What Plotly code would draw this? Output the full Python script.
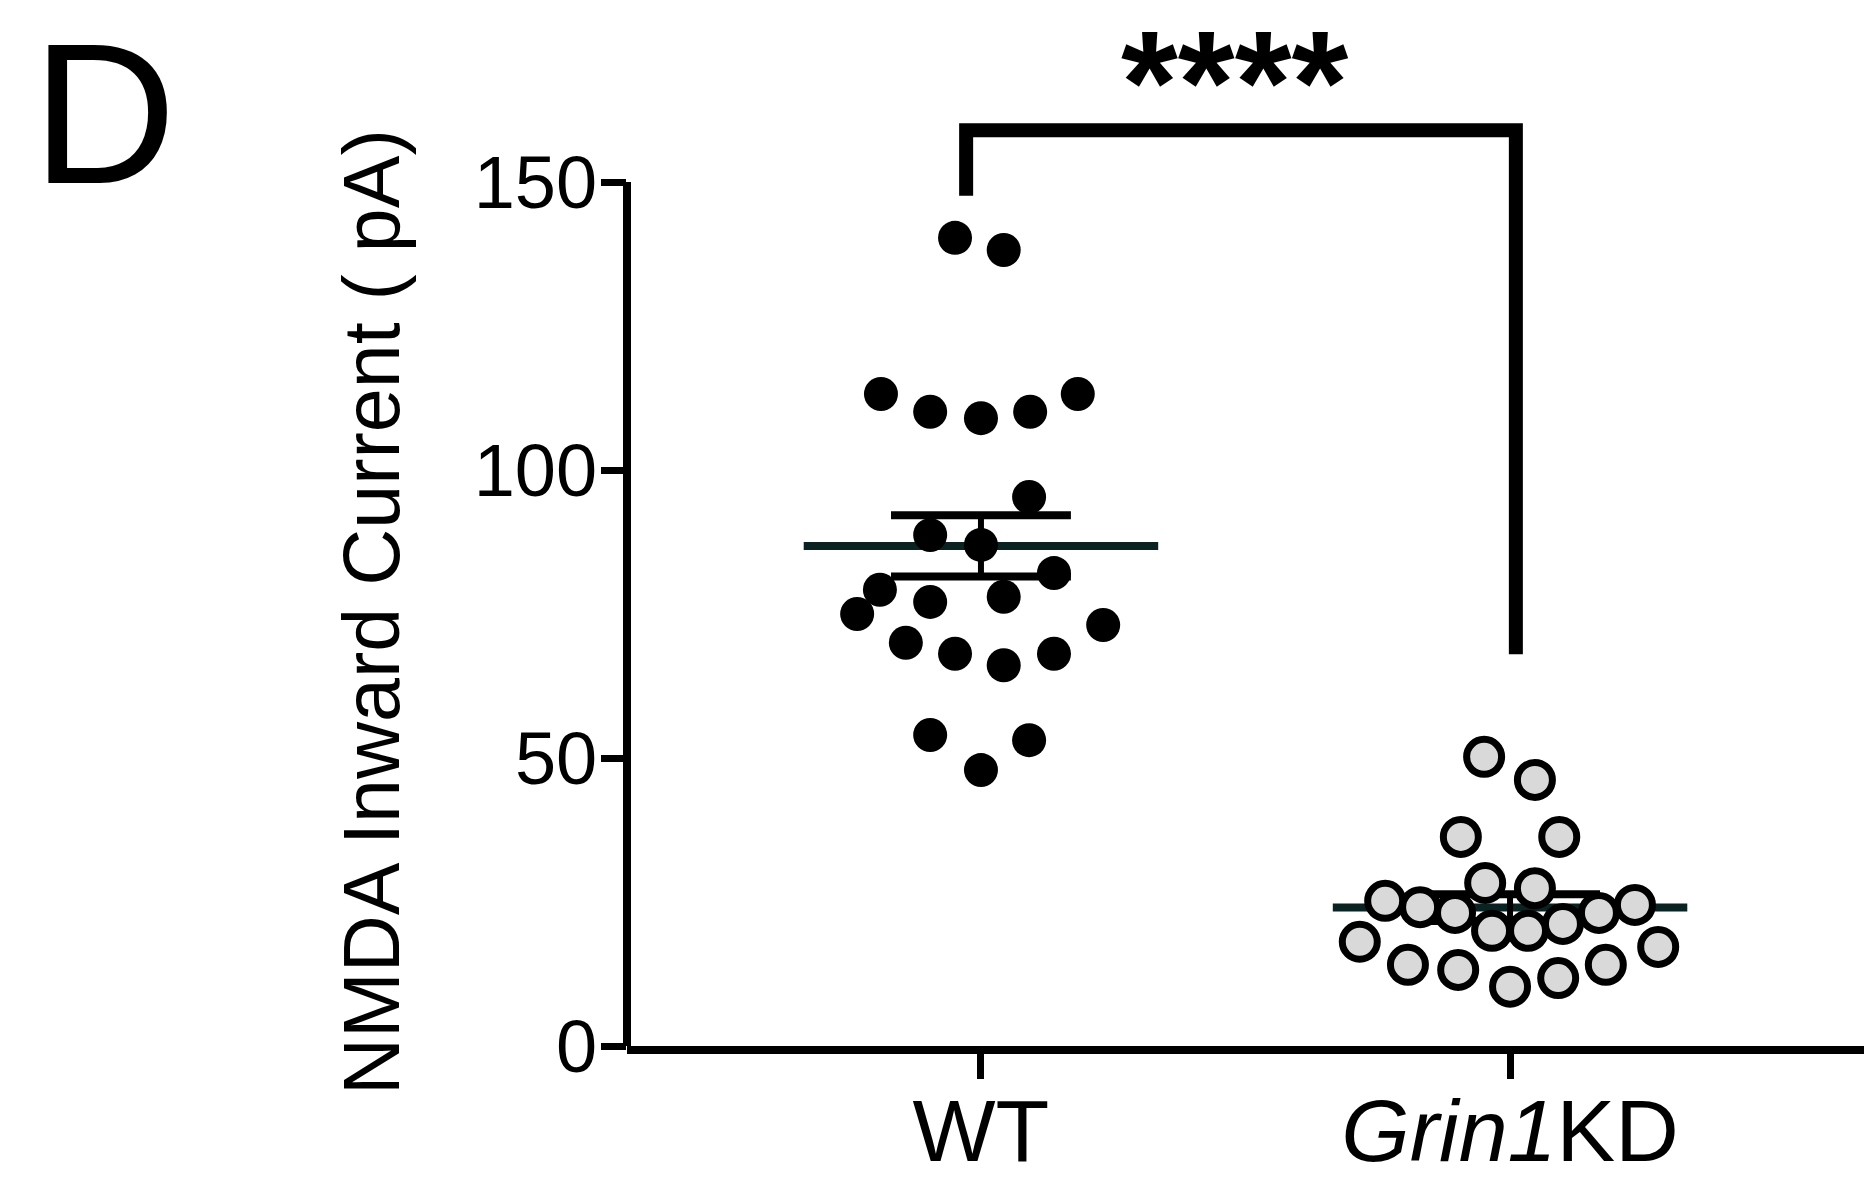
import plotly.graph_objects as go
import numpy as np

# ---------------- data ----------------
categories = ["WT", "Grin1KD"]
tick_labels = ["WT", "<i>Grin1</i>KD"]
y_ticks = [0, 50, 100, 150]

wt_values = [140.3, 138.2, 113.2, 110.1, 109.0, 110.1, 113.2, 95.3, 88.7, 87.0,
             82.1, 79.2, 75.0, 77.1, 78.0, 73.1, 70.0, 68.1, 66.1, 68.1,
             54.0, 53.1, 47.9]
# horizontal scatter offsets (category units) of the dot plot
wt_jitter = [-0.049, 0.043, -0.189, -0.096, 0.0, 0.093, 0.183, 0.091, -0.096, 0.0,
             0.138, -0.191, -0.234, -0.096, 0.043, 0.231, -0.142, -0.049, 0.043, 0.138,
             -0.096, 0.091, 0.0]

kd_values = [50.2, 46.2, 36.3, 36.3, 28.3, 27.4, 25.2, 24.1, 23.1, 24.5,
             23.1, 21.2, 20.0, 20.0, 18.1, 17.2, 14.1, 13.2, 14.1, 11.8, 10.3]
kd_jitter = [-0.049, 0.047, -0.093, 0.093, -0.047, 0.047, -0.236, -0.170, -0.104, 0.236,
             0.168, 0.100, -0.034, 0.034, -0.284, 0.280, -0.193, -0.098, 0.181, 0.091, 0.0]

significance = "****"
bracket_top = 159
bracket_ends = [147.6, 68]
bracket_x = [-0.028, 1.011]

# ---------------- figure ----------------
FONT = "Liberation Sans, Arial, sans-serif"
fig = go.Figure()

def mean_sem(v):
    a = np.asarray(v, dtype=float)
    return a.mean(), a.std(ddof=1) / np.sqrt(len(a))

shapes = []
for i, vals in enumerate([wt_values, kd_values]):
    m, s = mean_sem(vals)
    shapes.append(dict(type="line", xref="x", yref="y", x0=i - 0.335, x1=i + 0.335,
                       y0=m, y1=m, line=dict(color="#0a2222", width=8), layer="below"))
    for yy in (m - s, m + s):
        shapes.append(dict(type="line", xref="x", yref="y", x0=i - 0.17, x1=i + 0.17,
                           y0=yy, y1=yy, line=dict(color="black", width=8), layer="below"))
    shapes.append(dict(type="line", xref="x", yref="y", x0=i, x1=i,
                       y0=m - s, y1=m + s, line=dict(color="black", width=6), layer="below"))

# y axis line (Prism style, only up to the last tick)
shapes.append(dict(type="line", xref="paper", yref="y", x0=0, x1=0,
                   y0=-2, y1=max(y_ticks), line=dict(color="black", width=8)))

# significance bracket
shapes.append(dict(type="path", xref="x", yref="y",
                   path=f"M {bracket_x[0]},{bracket_ends[0]} L {bracket_x[0]},{bracket_top} "
                        f"L {bracket_x[1]},{bracket_top} L {bracket_x[1]},{bracket_ends[1]}",
                   line=dict(color="black", width=14)))

fig.add_trace(go.Scatter(
    x=[0 + j for j in wt_jitter], y=wt_values, mode="markers",
    marker=dict(size=34, color="black", line=dict(width=0)),
    cliponaxis=False, showlegend=False, hoverinfo="y"))
fig.add_trace(go.Scatter(
    x=[1 + j for j in kd_jitter], y=kd_values, mode="markers",
    marker=dict(size=35, color="#d9d9d9", line=dict(width=7, color="black")),
    cliponaxis=False, showlegend=False, hoverinfo="y"))

annotations = [
    dict(text="NMDA Inward Current ( pA)", xref="paper", yref="paper",
         x=-0.206, y=0.415, textangle=-90, showarrow=False,
         font=dict(family=FONT, size=79, color="black"),
         xanchor="center", yanchor="middle"),
    dict(text="D", xref="paper", yref="paper", x=-0.423, y=1.0, showarrow=False,
         font=dict(family=FONT, size=200, color="black"),
         xanchor="center", yanchor="top"),
    dict(text=f"<b>{significance}</b>", xref="x", yref="paper", x=0.48, y=1.0,
         showarrow=False, borderpad=0, font=dict(family=FONT, size=146, color="black"),
         xanchor="center", yanchor="top"),
]

ymax = 1046 / 5.76
fig.update_layout(
    width=1864, height=1187, autosize=False,
    margin=dict(l=627, r=0, t=0, b=141, pad=0),
    plot_bgcolor="white", paper_bgcolor="white",
    shapes=shapes, annotations=annotations,
    xaxis=dict(range=[-0.669, 1.669], tickvals=[0, 1], ticktext=tick_labels,
               showline=True, linecolor="black", linewidth=8,
               ticks="outside", ticklen=25, tickwidth=7, tickcolor="black",
               showgrid=False, zeroline=False, automargin=False,
               ticklabelstandoff=-24,
               tickfont=dict(family=FONT, size=88, color="black")),
    yaxis=dict(range=[0, ymax], tickvals=y_ticks, ticktext=[str(t) for t in y_ticks],
               showline=False, ticks="outside", ticklen=25, tickwidth=7, tickcolor="black",
               showgrid=False, zeroline=False, automargin=False,
               ticklabelstandoff=-11,
               tickfont=dict(family=FONT, size=74, color="black")),
)

fig.write_html(
    "out.html",
    config={"displayModeBar": False},
    post_script="document.body.style.margin='0';document.body.style.overflow='hidden';",
)
